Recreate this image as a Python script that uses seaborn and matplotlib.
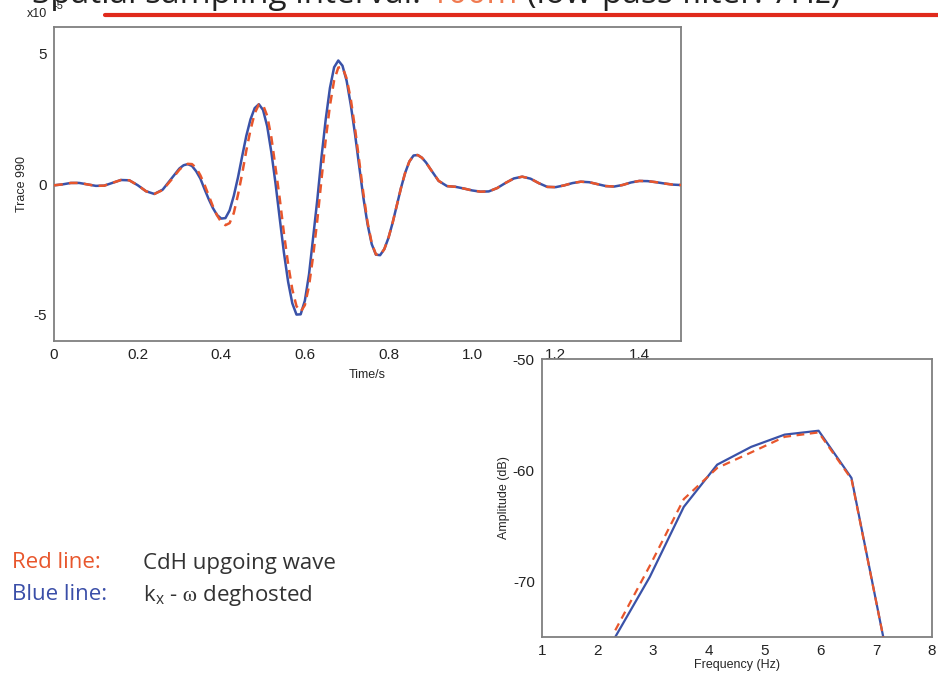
import numpy as np
import pandas as pd
import matplotlib
matplotlib.use("Agg")
import matplotlib.pyplot as plt
import seaborn as sns

# ---------------- data (trace amplitudes in units of 1e-5) ----------------
time_s = [0.00, 0.02, 0.04, 0.06, 0.08, 0.10, 0.12, 0.14, 0.16, 0.18, 0.20, 0.22, 0.24, 0.26, 0.28,
          0.30, 0.31, 0.32, 0.33, 0.34, 0.35, 0.36, 0.37, 0.38, 0.39, 0.40, 0.41, 0.42, 0.43, 0.44,
          0.45, 0.46, 0.47, 0.48, 0.49, 0.50, 0.51, 0.52, 0.53, 0.54, 0.55, 0.56, 0.57, 0.58, 0.59,
          0.60, 0.61, 0.62, 0.63, 0.64, 0.65, 0.66, 0.67, 0.68, 0.69, 0.70, 0.71, 0.72, 0.73, 0.74,
          0.75, 0.76, 0.77, 0.78, 0.79, 0.80, 0.81, 0.82, 0.83, 0.84, 0.85, 0.86, 0.87, 0.88, 0.89,
          0.90, 0.92, 0.94, 0.96, 0.98, 1.00, 1.02, 1.04, 1.06, 1.08, 1.10, 1.12, 1.14, 1.16, 1.18,
          1.20, 1.22, 1.24, 1.26, 1.28, 1.30, 1.32, 1.34, 1.36, 1.38, 1.40, 1.42, 1.44, 1.46, 1.48, 1.50]

blue_trace = [-0.05, -0.015, 0.04, 0.041, -0.015, -0.071, -0.063, 0.045, 0.153, 0.142, -0.044, -0.276, -0.38, -0.214, 0.19,
              0.594, 0.717, 0.76, 0.689, 0.487, 0.210, -0.193, -0.578, -0.918, -1.185, -1.321, -1.303, -1.011, -0.453, 0.249,
              1.057, 1.843, 2.47, 2.90, 3.05, 2.83, 2.20, 1.20, 0.00, -1.33, -2.63, -3.74, -4.56, -4.99, -4.98,
              -4.46, -3.45, -2.02, -0.57, 1.05, 2.48, 3.67, 4.46, 4.72, 4.52, 3.94, 3.01, 1.91, 0.68, -0.52,
              -1.54, -2.30, -2.70, -2.72, -2.49, -2.06, -1.48, -0.815, -0.15, 0.43, 0.86, 1.09, 1.107, 1.005, 0.82,
              0.58, 0.12, -0.08, -0.106, -0.171, -0.245, -0.293, -0.283, -0.155, 0.04, 0.212, 0.28, 0.203, 0.03, -0.11,
              -0.12, -0.054, 0.035, 0.088, 0.069, -0.005, -0.079, -0.097, -0.038, 0.058, 0.117, 0.11, 0.07, 0.02, -0.023, -0.04]

red_trace = [-0.05, -0.015, 0.04, 0.041, -0.015, -0.071, -0.063, 0.045, 0.153, 0.142, -0.044, -0.276, -0.38, -0.229, 0.147,
             0.547, 0.694, 0.77, 0.761, 0.615, 0.334, -0.027, -0.44, -0.85, -1.20, -1.455, -1.573, -1.496, -1.11, -0.415,
             0.39, 1.28, 2.07, 2.70, 3.04, 3.02, 2.60, 1.77, 0.61, -0.57, -1.89, -3.06, -4.03, -4.67, -4.88,
             -4.63, -3.89, -2.73, -1.35, 0.21, 1.71, 3.00, 3.96, 4.45, 4.47, 4.03, 3.23, 2.13, 0.885, -0.36,
             -1.46, -2.26, -2.69, -2.72, -2.49, -2.06, -1.48, -0.815, -0.15, 0.43, 0.86, 1.09, 1.107, 1.005, 0.82,
             0.58, 0.12, -0.08, -0.106, -0.171, -0.245, -0.293, -0.283, -0.155, 0.04, 0.212, 0.28, 0.203, 0.03, -0.11,
             -0.12, -0.054, 0.035, 0.088, 0.069, -0.005, -0.079, -0.097, -0.038, 0.058, 0.117, 0.11, 0.07, 0.02, -0.023, -0.04]

# ---------------- spectrum ----------------
freq_hz = [2.32, 2.94, 3.55, 4.15, 4.76, 5.36, 5.97, 6.56, 7.15]
blue_db = [-75.0, -69.6, -63.3, -59.5, -57.9, -56.8, -56.45, -60.7, -75.5]
red_db = [-74.4, -68.6, -62.6, -59.8, -58.4, -57.0, -56.6, -60.8, -75.5]

time_ticks = [0, 0.2, 0.4, 0.6, 0.8, 1.0, 1.2, 1.4]
time_ticklabels = ["0", "0.2", "0.4", "0.6", "0.8", "1.0", "1.2", "1.4"]
trace_ticks = [-5, 0, 5]
freq_ticks = [1, 2, 3, 4, 5, 6, 7, 8]
db_ticks = [-70, -60, -50]

BLUE = "#3a52a8"
RED = "#e8562c"
GRAY = "#7f7f7f"

sns.set_style("white")
plt.rcParams["font.family"] = ["Liberation Sans", "DejaVu Sans"]
plt.rcParams["mathtext.fontset"] = "stix"
plt.rcParams["axes.unicode_minus"] = False

fig = plt.figure(figsize=(9.38, 6.77), dpi=100)
fig.patch.set_facecolor("white")

df_trace = pd.DataFrame({"t": time_s, "blue": blue_trace, "red": red_trace})
df_spec = pd.DataFrame({"f": freq_hz, "blue": blue_db, "red": red_db})

# ---------- top axes ----------
ax1 = fig.add_axes([0.0576, 0.4963, 0.6685, 0.4638])
sns.lineplot(data=df_trace, x="t", y="blue", ax=ax1, color=BLUE, linewidth=1.8, zorder=2)
sns.lineplot(data=df_trace, x="t", y="red", ax=ax1, color=RED, linewidth=1.8,
             linestyle=(0, (3.5, 2.5)), zorder=3)
ax1.set_xlim(0, 1.5)
ax1.set_ylim(-6, 6)
ax1.set_xticks(time_ticks)
ax1.set_xticklabels(time_ticklabels)
ax1.set_yticks(trace_ticks)
ax1.set_xlabel("Time/s", fontsize=9, labelpad=5)
ax1.set_ylabel("Trace 990", fontsize=9, labelpad=4)

# ---------- bottom-right axes ----------
ax2 = fig.add_axes([0.5775, 0.0591, 0.4158, 0.4106], zorder=5)
ax2.set_facecolor("white")
sns.lineplot(data=df_spec, x="f", y="blue", ax=ax2, color=BLUE, linewidth=1.6, zorder=2)
sns.lineplot(data=df_spec, x="f", y="red", ax=ax2, color=RED, linewidth=1.6,
             linestyle=(0, (3.5, 2.5)), zorder=3)
ax2.set_xlim(1, 8)
ax2.set_ylim(-75, -50)
ax2.set_xticks(freq_ticks)
ax2.set_yticks(db_ticks)
ax2.set_xlabel("Frequency (Hz)", fontsize=9, labelpad=1)
ax2.set_ylabel("Amplitude (dB)", fontsize=9, labelpad=2)

for ax in (ax1, ax2):
    for s in ax.spines.values():
        s.set_color(GRAY)
        s.set_linewidth(1.3)
        s.set_visible(True)
    ax.tick_params(axis="both", direction="out", length=3, width=1, color=GRAY,
                   labelsize=11, pad=2, labelcolor="#222222")
    ax.grid(False)

# ---------- figure texts ----------
fig.text(27 / 938, 1 - 14 / 677, "x10", fontsize=9, ha="left", va="center", color="#222222")
fig.text(53 / 938, 1 - 6 / 677, "-5", fontsize=8, ha="left", va="center", color="#222222")

# clipped slide title (only the lower part of the letters shows)
fig.canvas.draw()
renderer = fig.canvas.get_renderer()
y_fig = 1 - 3 / 677
tfs = 24
fam = ["Open Sans", "DejaVu Sans"]
pieces = [("Spatial sampling interval: ", "#222222"), ("100m", "#f07a50"),
          (" (low-pass filter: 7Hz)", "#222222")]
probe = fig.text(0, 0, pieces[0][0], fontsize=tfs, family=fam)
w0 = probe.get_window_extent(renderer=renderer).width
probe.remove()
x_px = 430 - w0
for txt, col in pieces:
    t = fig.text(x_px / 938, y_fig, txt, fontsize=tfs, color=col, ha="left", va="baseline",
                 family=fam)
    bb = t.get_window_extent(renderer=renderer)
    x_px += bb.width

fig.add_artist(plt.Line2D([105 / 938, 1.0], [1 - 15 / 677, 1 - 15 / 677], color="#e02a1c",
                          linewidth=3, transform=fig.transFigure))

# legend-like explanation
fs = 16
fig.text(12 / 938, 1 - 563 / 677, "Red line:", color=RED, fontsize=fs, va="center", family=fam)
fig.text(143 / 938, 1 - 563 / 677, "CdH upgoing wave", color="#333333", fontsize=fs, va="center",
         family=fam)
fig.text(12 / 938, 1 - 595 / 677, "Blue line:", color="#3a4ea8", fontsize=fs, va="center", family=fam)
fig.text(143 / 938, 1 - 595 / 677, "k$_\\mathregular{x}$ - $\\mathrm{\\omega}$ deghosted",
         color="#333333", fontsize=fs, va="center", family=fam)

fig.savefig("out.png", dpi=100, facecolor="white")
